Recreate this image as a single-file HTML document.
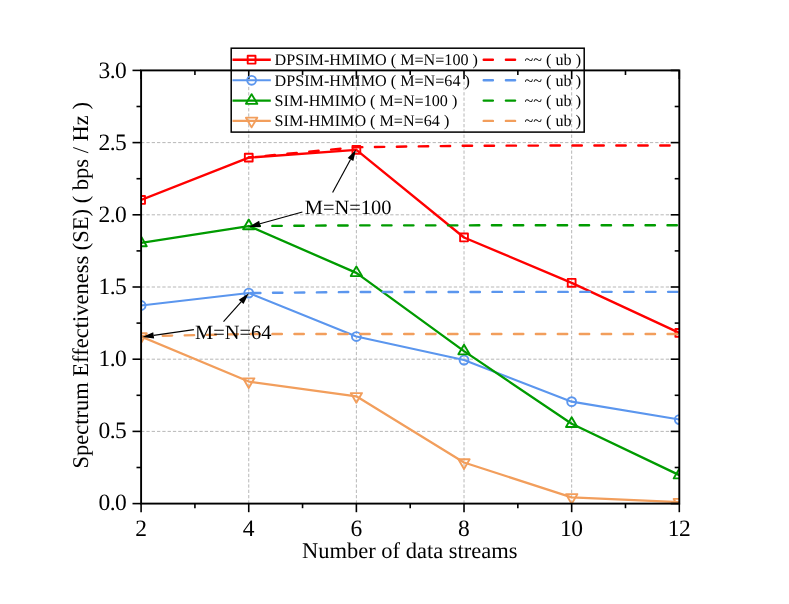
<!DOCTYPE html>
<html><head><meta charset="utf-8"><title>Spectrum Effectiveness</title>
<style>html,body{margin:0;padding:0;background:#fff;}body{width:789px;height:604px;overflow:hidden;}svg{display:block;will-change:transform;transform:translateZ(0);}text{font-family:"Liberation Serif",serif;fill:#000;text-rendering:geometricPrecision;}.tk{font-size:23.5px;letter-spacing:-0.5px;text-rendering:geometricPrecision;}</style></head><body>
<svg width="789" height="604" viewBox="0 0 789 604">
<rect width="789" height="604" fill="#fff"/>
<defs><clipPath id="pc"><rect x="141.1" y="70.4" width="538.1999999999999" height="433.20000000000005"/></clipPath></defs>
<g stroke="#a4a4a4" stroke-width="0.8" stroke-dasharray="3.3 2" fill="none"><line x1="248.74" y1="503.6" x2="248.74" y2="70.4"/><line x1="356.38" y1="503.6" x2="356.38" y2="70.4"/><line x1="464.02" y1="503.6" x2="464.02" y2="70.4"/><line x1="571.66" y1="503.6" x2="571.66" y2="70.4"/><line x1="141.1" y1="431.4" x2="679.3" y2="431.4"/><line x1="141.1" y1="359.2" x2="679.3" y2="359.2"/><line x1="141.1" y1="287.0" x2="679.3" y2="287.0"/><line x1="141.1" y1="214.8" x2="679.3" y2="214.8"/><line x1="141.1" y1="142.6" x2="679.3" y2="142.6"/></g>
<g clip-path="url(#pc)">
<polyline points="141.10,199.93 248.74,157.62 356.38,149.82 464.02,237.47 571.66,282.81 679.30,332.92" fill="none" stroke="#ff0000" stroke-width="2.35" stroke-linejoin="round"/>
<polyline points="141.10,305.48 248.74,293.06 356.38,336.53 464.02,360.07 571.66,401.65 679.30,419.56" fill="none" stroke="#5b96ee" stroke-width="2.1" stroke-linejoin="round"/>
<polyline points="141.10,242.96 248.74,226.06 356.38,272.85 464.02,351.11 571.66,423.75 679.30,475.15" fill="none" stroke="#009b00" stroke-width="2.3" stroke-linejoin="round"/>
<polyline points="141.10,336.53 248.74,381.58 356.38,396.31 464.02,462.45 571.66,497.39 679.30,502.16" fill="none" stroke="#f29e5c" stroke-width="2.25" stroke-linejoin="round"/>
<rect x="137.20" y="196.03" width="7.8" height="7.8" fill="none" stroke="#ff0000" stroke-width="1.9" stroke-linejoin="round"/>
<rect x="244.84" y="153.72" width="7.8" height="7.8" fill="none" stroke="#ff0000" stroke-width="1.9" stroke-linejoin="round"/>
<rect x="352.48" y="145.92" width="7.8" height="7.8" fill="none" stroke="#ff0000" stroke-width="1.9" stroke-linejoin="round"/>
<rect x="460.12" y="233.57" width="7.8" height="7.8" fill="none" stroke="#ff0000" stroke-width="1.9" stroke-linejoin="round"/>
<rect x="567.76" y="278.91" width="7.8" height="7.8" fill="none" stroke="#ff0000" stroke-width="1.9" stroke-linejoin="round"/>
<rect x="675.40" y="329.02" width="7.8" height="7.8" fill="none" stroke="#ff0000" stroke-width="1.9" stroke-linejoin="round"/>
<circle cx="141.10" cy="305.48" r="4.45" fill="none" stroke="#5b96ee" stroke-width="1.9"/>
<circle cx="248.74" cy="293.06" r="4.45" fill="none" stroke="#5b96ee" stroke-width="1.9"/>
<circle cx="356.38" cy="336.53" r="4.45" fill="none" stroke="#5b96ee" stroke-width="1.9"/>
<circle cx="464.02" cy="360.07" r="4.45" fill="none" stroke="#5b96ee" stroke-width="1.9"/>
<circle cx="571.66" cy="401.65" r="4.45" fill="none" stroke="#5b96ee" stroke-width="1.9"/>
<circle cx="679.30" cy="419.56" r="4.45" fill="none" stroke="#5b96ee" stroke-width="1.9"/>
<polygon points="141.10,236.49 146.75,246.19 135.45,246.19" fill="none" stroke="#009b00" stroke-width="1.9" stroke-linejoin="round"/>
<polygon points="248.74,219.60 254.39,229.30 243.09,229.30" fill="none" stroke="#009b00" stroke-width="1.9" stroke-linejoin="round"/>
<polygon points="356.38,266.38 362.03,276.08 350.73,276.08" fill="none" stroke="#009b00" stroke-width="1.9" stroke-linejoin="round"/>
<polygon points="464.02,344.65 469.67,354.35 458.37,354.35" fill="none" stroke="#009b00" stroke-width="1.9" stroke-linejoin="round"/>
<polygon points="571.66,417.28 577.31,426.98 566.01,426.98" fill="none" stroke="#009b00" stroke-width="1.9" stroke-linejoin="round"/>
<polygon points="679.30,468.69 684.95,478.39 673.65,478.39" fill="none" stroke="#009b00" stroke-width="1.9" stroke-linejoin="round"/>
<polygon points="141.10,343.00 146.75,333.30 135.45,333.30" fill="none" stroke="#f29e5c" stroke-width="1.9" stroke-linejoin="round"/>
<polygon points="248.74,388.05 254.39,378.35 243.09,378.35" fill="none" stroke="#f29e5c" stroke-width="1.9" stroke-linejoin="round"/>
<polygon points="356.38,402.78 362.03,393.08 350.73,393.08" fill="none" stroke="#f29e5c" stroke-width="1.9" stroke-linejoin="round"/>
<polygon points="464.02,468.91 469.67,459.21 458.37,459.21" fill="none" stroke="#f29e5c" stroke-width="1.9" stroke-linejoin="round"/>
<polygon points="571.66,503.86 577.31,494.16 566.01,494.16" fill="none" stroke="#f29e5c" stroke-width="1.9" stroke-linejoin="round"/>
<polygon points="679.30,508.62 684.95,498.92 673.65,498.92" fill="none" stroke="#f29e5c" stroke-width="1.9" stroke-linejoin="round"/>
<polyline points="248.74,157.47 356.38,147.22 464.02,145.78 571.66,145.49 679.30,145.49" fill="none" stroke="#ff0000" stroke-width="2.4" stroke-linecap="round" stroke-dasharray="9.4 12.55" stroke-dashoffset="5.059"/>
<polyline points="248.74,293.06 356.38,291.98 679.30,291.84" fill="none" stroke="#5b96ee" stroke-width="2.4" stroke-linecap="round" stroke-dasharray="9.4 12.55" stroke-dashoffset="19.654"/>
<polyline points="248.74,226.06 356.38,225.37 679.30,225.25" fill="none" stroke="#009b00" stroke-width="2.4" stroke-linecap="round" stroke-dasharray="9.4 12.55" stroke-dashoffset="20.258"/>
<polyline points="141.10,336.24 248.74,334.00 679.30,334.00" fill="none" stroke="#f29e5c" stroke-width="2.4" stroke-linecap="round" stroke-dasharray="9.4 12.55" stroke-dashoffset="0.3"/>
</g>
<rect x="141.1" y="70.4" width="538.1999999999999" height="433.20000000000005" fill="none" stroke="#000" stroke-width="1.9"/>
<g stroke="#000" stroke-width="1.6"><line x1="141.10" y1="503.6" x2="141.10" y2="512.2"/><line x1="141.10" y1="70.4" x2="141.10" y2="79.0"/><line x1="194.92" y1="503.6" x2="194.92" y2="508.20000000000005"/><line x1="194.92" y1="70.4" x2="194.92" y2="75.0"/><line x1="248.74" y1="503.6" x2="248.74" y2="512.2"/><line x1="248.74" y1="70.4" x2="248.74" y2="79.0"/><line x1="302.56" y1="503.6" x2="302.56" y2="508.20000000000005"/><line x1="302.56" y1="70.4" x2="302.56" y2="75.0"/><line x1="356.38" y1="503.6" x2="356.38" y2="512.2"/><line x1="356.38" y1="70.4" x2="356.38" y2="79.0"/><line x1="410.20" y1="503.6" x2="410.20" y2="508.20000000000005"/><line x1="410.20" y1="70.4" x2="410.20" y2="75.0"/><line x1="464.02" y1="503.6" x2="464.02" y2="512.2"/><line x1="464.02" y1="70.4" x2="464.02" y2="79.0"/><line x1="517.84" y1="503.6" x2="517.84" y2="508.20000000000005"/><line x1="517.84" y1="70.4" x2="517.84" y2="75.0"/><line x1="571.66" y1="503.6" x2="571.66" y2="512.2"/><line x1="571.66" y1="70.4" x2="571.66" y2="79.0"/><line x1="625.48" y1="503.6" x2="625.48" y2="508.20000000000005"/><line x1="625.48" y1="70.4" x2="625.48" y2="75.0"/><line x1="679.30" y1="503.6" x2="679.30" y2="512.2"/><line x1="679.30" y1="70.4" x2="679.30" y2="79.0"/><line x1="141.1" y1="503.60" x2="132.5" y2="503.60"/><line x1="679.3" y1="503.60" x2="670.6999999999999" y2="503.60"/><line x1="141.1" y1="467.50" x2="136.5" y2="467.50"/><line x1="679.3" y1="467.50" x2="674.6999999999999" y2="467.50"/><line x1="141.1" y1="431.40" x2="132.5" y2="431.40"/><line x1="679.3" y1="431.40" x2="670.6999999999999" y2="431.40"/><line x1="141.1" y1="395.30" x2="136.5" y2="395.30"/><line x1="679.3" y1="395.30" x2="674.6999999999999" y2="395.30"/><line x1="141.1" y1="359.20" x2="132.5" y2="359.20"/><line x1="679.3" y1="359.20" x2="670.6999999999999" y2="359.20"/><line x1="141.1" y1="323.10" x2="136.5" y2="323.10"/><line x1="679.3" y1="323.10" x2="674.6999999999999" y2="323.10"/><line x1="141.1" y1="287.00" x2="132.5" y2="287.00"/><line x1="679.3" y1="287.00" x2="670.6999999999999" y2="287.00"/><line x1="141.1" y1="250.90" x2="136.5" y2="250.90"/><line x1="679.3" y1="250.90" x2="674.6999999999999" y2="250.90"/><line x1="141.1" y1="214.80" x2="132.5" y2="214.80"/><line x1="679.3" y1="214.80" x2="670.6999999999999" y2="214.80"/><line x1="141.1" y1="178.70" x2="136.5" y2="178.70"/><line x1="679.3" y1="178.70" x2="674.6999999999999" y2="178.70"/><line x1="141.1" y1="142.60" x2="132.5" y2="142.60"/><line x1="679.3" y1="142.60" x2="670.6999999999999" y2="142.60"/><line x1="141.1" y1="106.50" x2="136.5" y2="106.50"/><line x1="679.3" y1="106.50" x2="674.6999999999999" y2="106.50"/><line x1="141.1" y1="70.40" x2="132.5" y2="70.40"/><line x1="679.3" y1="70.40" x2="670.6999999999999" y2="70.40"/></g>
<text class="tk" x="140.80" y="536" text-anchor="middle">2</text>
<text class="tk" x="248.44" y="536" text-anchor="middle">4</text>
<text class="tk" x="356.08" y="536" text-anchor="middle">6</text>
<text class="tk" x="463.72" y="536" text-anchor="middle">8</text>
<text class="tk" x="571.36" y="536" text-anchor="middle">10</text>
<text class="tk" x="679.00" y="536" text-anchor="middle">12</text>
<text class="tk" x="126.3" y="510" text-anchor="end">0.0</text>
<text class="tk" x="126.3" y="438" text-anchor="end">0.5</text>
<text class="tk" x="126.3" y="366" text-anchor="end">1.0</text>
<text class="tk" x="126.3" y="294" text-anchor="end">1.5</text>
<text class="tk" x="126.3" y="222" text-anchor="end">2.0</text>
<text class="tk" x="126.3" y="150" text-anchor="end">2.5</text>
<text class="tk" x="126.3" y="78" text-anchor="end">3.0</text>
<text x="409.8" y="557.6" font-size="22.5" text-anchor="middle">Number of data streams</text>
<text transform="translate(87.9,285.3) rotate(-90)" font-size="22.5" text-anchor="middle">Spectrum Effectiveness (SE) ( bps / Hz )</text>
<text x="304.8" y="214.3" font-size="20.45">M=N=100</text>
<text x="195.0" y="338.6" font-size="20.45">M=N=64</text>
<line x1="332.60" y1="192.60" x2="350.52" y2="159.51" stroke="#000" stroke-width="1.15"/><polygon points="356.00,149.40 353.34,161.04 347.71,157.99" fill="#000"/>
<line x1="302.40" y1="212.00" x2="259.98" y2="223.81" stroke="#000" stroke-width="1.15"/><polygon points="248.90,226.90 259.12,220.73 260.84,226.90" fill="#000"/>
<line x1="223.50" y1="321.60" x2="241.14" y2="301.87" stroke="#000" stroke-width="1.15"/><polygon points="248.80,293.30 243.52,304.01 238.75,299.74" fill="#000"/>
<line x1="193.90" y1="329.60" x2="153.68" y2="335.37" stroke="#000" stroke-width="1.15"/><polygon points="142.30,337.00 153.23,332.20 154.14,338.54" fill="#000"/>
<rect x="231.2" y="48.2" width="353.00000000000006" height="83.89999999999999" fill="none" stroke="#000" stroke-width="1.5"/>
<line x1="232.5" y1="59.7" x2="270.8" y2="59.7" stroke="#ff0000" stroke-width="2.35"/>
<rect x="247.70" y="55.80" width="7.8" height="7.8" fill="none" stroke="#ff0000" stroke-width="1.9" stroke-linejoin="round"/>
<text x="274.6" y="65.10" font-size="16.15">DPSIM-HMIMO ( M=N=100 )</text>
<line x1="483.7" y1="59.7" x2="520.8" y2="59.7" stroke="#ff0000" stroke-width="2.4" stroke-linecap="round" stroke-dasharray="9.2 13.0"/>
<text x="524.6" y="65.10" font-size="16.15">~~ ( ub )</text>
<line x1="232.5" y1="80.3" x2="270.8" y2="80.3" stroke="#5b96ee" stroke-width="2.1"/>
<circle cx="251.60" cy="80.30" r="4.45" fill="none" stroke="#5b96ee" stroke-width="1.9"/>
<text x="274.6" y="85.70" font-size="16.15">DPSIM-HMIMO ( M=N=64 )</text>
<line x1="483.7" y1="80.3" x2="520.8" y2="80.3" stroke="#5b96ee" stroke-width="2.4" stroke-linecap="round" stroke-dasharray="9.2 13.0"/>
<text x="524.6" y="85.70" font-size="16.15">~~ ( ub )</text>
<line x1="232.5" y1="100.6" x2="270.8" y2="100.6" stroke="#009b00" stroke-width="2.3"/>
<polygon points="251.60,94.13 257.25,103.83 245.95,103.83" fill="none" stroke="#009b00" stroke-width="1.9" stroke-linejoin="round"/>
<text x="274.6" y="106.00" font-size="16.15">SIM-HMIMO ( M=N=100 )</text>
<line x1="483.7" y1="100.6" x2="520.8" y2="100.6" stroke="#009b00" stroke-width="2.4" stroke-linecap="round" stroke-dasharray="9.2 13.0"/>
<text x="524.6" y="106.00" font-size="16.15">~~ ( ub )</text>
<line x1="232.5" y1="120.9" x2="270.8" y2="120.9" stroke="#f29e5c" stroke-width="2.25"/>
<polygon points="251.60,127.37 257.25,117.67 245.95,117.67" fill="none" stroke="#f29e5c" stroke-width="1.9" stroke-linejoin="round"/>
<text x="274.6" y="126.30" font-size="16.15">SIM-HMIMO ( M=N=64 )</text>
<line x1="483.7" y1="120.9" x2="520.8" y2="120.9" stroke="#f29e5c" stroke-width="2.4" stroke-linecap="round" stroke-dasharray="9.2 13.0"/>
<text x="524.6" y="126.30" font-size="16.15">~~ ( ub )</text>
</svg></body></html>
